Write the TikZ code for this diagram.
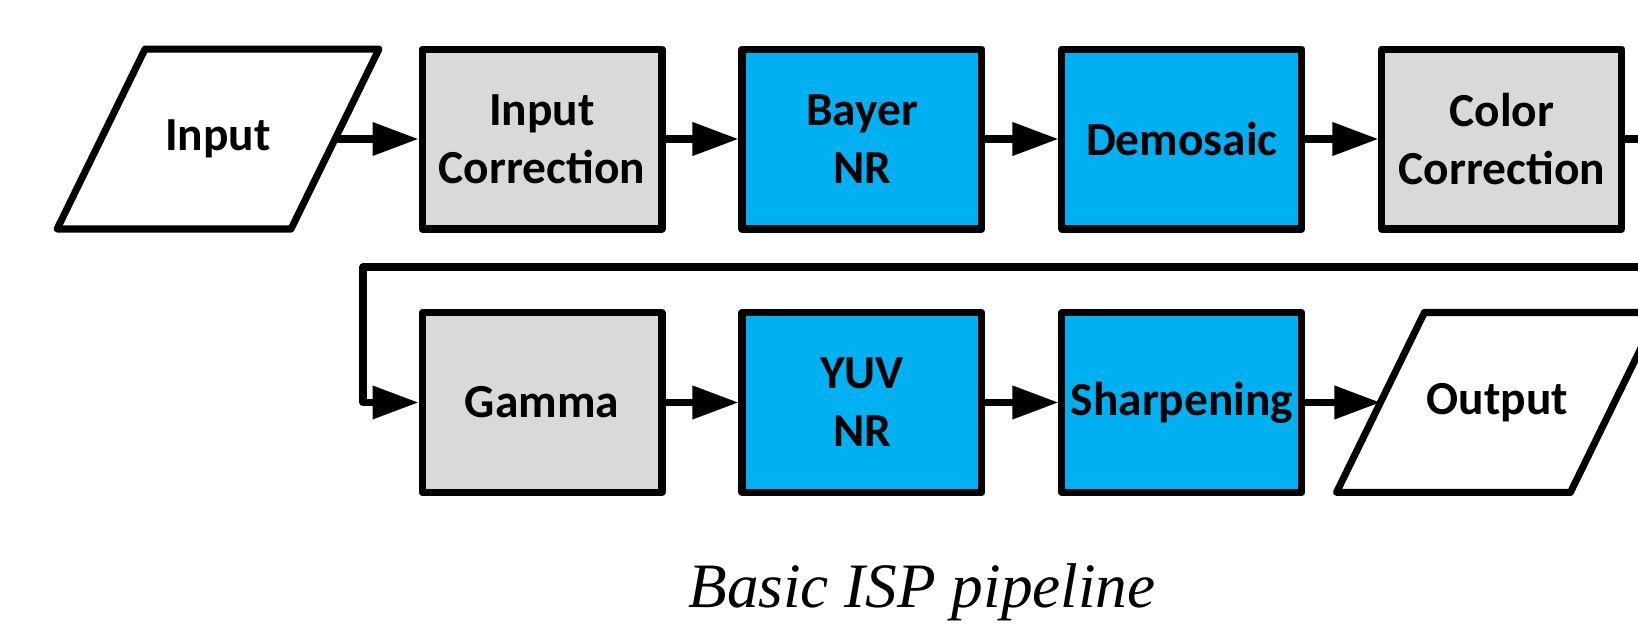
\documentclass[tikz,border=0pt]{standalone}
\usepackage{fontspec}
\usepackage{tikz}
\usetikzlibrary{positioning, arrows.meta}
\newfontfamily\blockfont{Carlito}
\newfontfamily\captionfont{Liberation Serif}
\definecolor{ispgray}{RGB}{217,217,217}
\definecolor{ispblue}{RGB}{0,176,240}

\tikzset{
  block/.style={draw, line width=4pt, line join=round, minimum width=4.8cm, minimum height=3.6cm, inner sep=1pt, align=center, font=\blockfont\bfseries\fontsize{27}{33}\selectfont},
  grayblock/.style={block, fill=ispgray},
  blueblock/.style={block, fill=ispblue},
  io/.style={minimum width=4.68cm, minimum height=3.6cm, inner sep=1pt, outer sep=0pt, align=center, font=\blockfont\bfseries\fontsize{27}{33}\selectfont},
  ioline/.style={draw, line width=4pt, line join=round},
  flow/.style={line width=4pt, line join=round, -{Triangle[length=0.92cm, width=0.64cm]}}
}

\begin{document}
\begin{tikzpicture}[x=0.02cm, y=-0.02cm, node distance=1.46cm]
			\useasboundingbox (0,0) rectangle (1638,626);
			\clip (0,0) rectangle (1638,626);
			% first row
			\node[grayblock] (icorr) at (542,139) {Input\\Correction};
			\node[io, left=1.67cm of icorr] (inp) {Input};
			\node[blueblock, right=of icorr] (bayer) {Bayer\\NR};
			\node[blueblock, right=of bayer] (demosaic) {Demosaic};
			\node[grayblock, right=of demosaic] (ccorr) {Color\\Correction};
			% second row
			\node[grayblock, below=1.53cm of icorr] (gamma) {Gamma};
			\node[blueblock, right=of gamma] (yuv) {YUV\\NR};
			\node[blueblock, right=of yuv] (sharp) {Sharpening};
			\node[io, right=1.5cm of sharp] (outp) {Output};
			% slanted in/out shapes
			\foreach \n in {inp,outp}
				\draw[ioline] ([xshift=-0.88cm]\n.south west) -- ([xshift=0.88cm]\n.north west) -- ([xshift=0.88cm]\n.north east) -- ([xshift=-0.88cm]\n.south east) -- cycle;
			% connectors
			\draw[flow] (inp) -- (icorr);
			\draw[flow] (icorr) -- (bayer);
			\draw[flow] (bayer) -- (demosaic);
			\draw[flow] (demosaic) -- (ccorr);
			\coordinate (back) at (1690,267);
			\coordinate (turn) at (363,267);
			\draw[flow] (ccorr.east) -| (back) -- (turn) |- (gamma.west);
			\draw[flow] (gamma) -- (yuv);
			\draw[flow] (yuv) -- (sharp);
			\draw[flow] (sharp) -- (outp);
			% caption
			\node[anchor=base, font=\captionfont\itshape\fontsize{36}{43}\selectfont] (caption) at (922,607) {Basic ISP pipeline};
			\end{tikzpicture}
\end{document}
